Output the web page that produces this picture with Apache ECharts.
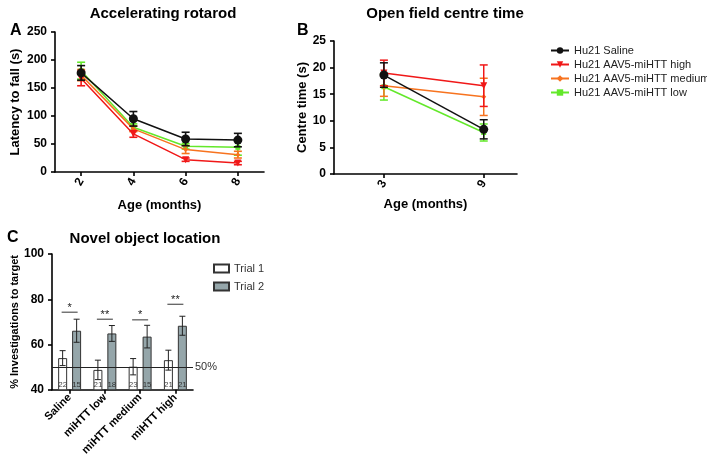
<!DOCTYPE html>
<html>
<head>
<meta charset="utf-8">
<script src="https://cdn.jsdelivr.net/npm/echarts@6/dist/echarts.min.js"></script>
<style>
  html, body { margin: 0; padding: 0; background: #fff; }
  #main { width: 707px; height: 458px; }
</style>
</head>
<body>
<div id="main"></div>
<script>
// 图A 数据: 旋转棒
const ageA = ["2", "4", "6", "8"];
const salineA = [177, 95, 59, 57];
const salineAErr = [13, 13, 12, 12];
const highA = [167, 68, 22, 16];
const highAErr = [13, 6, 3, 3];
const mediumA = [173, 77, 40, 31];
const mediumAErr = [10, 5, 7, 6];
const lowA = [181, 80, 46, 44];
const lowAErr = [15, 6, 5, 14];

// 图B 数据: 旷场中心时间
const ageB = [3, 9];
const salineB = [18.6, 8.4];
const salineBErr = [2.3, 1.8];
const highB = [19.0, 16.6];
const highBErr = [2.4, 3.9];
const mediumB = [16.6, 14.5];
const mediumBErr = [2.0, 3.5];
const lowB = [16.4, 7.8];
const lowBErr = [2.5, 1.6];

// 图C 数据: 新物体位置
const groupsC = ["Saline", "miHTT low", "miHTT medium", "miHTT high"];
const trial1 = [54.0, 48.8, 50.2, 53.1];
const trial1Err = [3.3, 4.3, 3.6, 4.4];
const trial2 = [66.1, 64.9, 63.5, 68.3];
const trial2Err = [5.1, 3.5, 5.0, 4.2];
const n1 = [22, 21, 23, 21];
const n2 = [15, 18, 15, 21];
const sigY = [74.3, 71.2, 70.9, 77.8];
const sigText = ["*", "**", "*", "**"];

const FONT = "Liberation Sans, Arial, sans-serif";
const names = [
  "Hu21 Saline",
  "Hu21 AAV5-miHTT high",
  "Hu21 AAV5-miHTT medium",
  "Hu21 AAV5-miHTT low",
];
const colors = ["#111111", "#f01818", "#f7731f", "#63e82a"];
const symbols = ["circle", "triangle", "diamond", "rect"];
const symbolSizes = [9, 7, 5, 5];
const symbolRotate = [0, 180, 0, 0];

var myChart = echarts.init(document.getElementById("main"));

// 误差线(偏移像素, 帽宽)
const errRender = (offset, cap, color, width) => {
  return function (params, api) {
    const x = api.value(0);
    const m = api.value(1);
    const e = api.value(2);
    const top = api.coord([x, m + e]);
    const bot = api.coord([x, m - e]);
    const cx = top[0] + offset;
    const st = { stroke: color, lineWidth: width };
    return {
      type: "group",
      children: [
        { type: "line", shape: { x1: cx, y1: top[1], x2: cx, y2: bot[1] }, style: st },
        { type: "line", shape: { x1: cx - cap, y1: top[1], x2: cx + cap, y2: top[1] }, style: st },
        { type: "line", shape: { x1: cx - cap, y1: bot[1], x2: cx + cap, y2: bot[1] }, style: st },
      ],
    };
  };
};

const boldLabel = { color: "#000", fontFamily: FONT, fontWeight: "bold", fontSize: 12 };
const axisLine = { show: true, lineStyle: { color: "#000", width: 1.6 } };
const axisTick = { show: true, length: 4, lineStyle: { color: "#000", width: 1.6 } };

const seriesA = [
  [salineA, salineAErr],
  [highA, highAErr],
  [mediumA, mediumAErr],
  [lowA, lowAErr],
];
const seriesB = [
  [salineB, salineBErr],
  [highB, highBErr],
  [mediumB, mediumBErr],
  [lowB, lowBErr],
];

var series = [];
// 折线(先画低的, 黑色在最上)
[3, 2, 1, 0].forEach((i) => {
  series.push({
    name: names[i],
    type: "line",
    xAxisIndex: 0,
    yAxisIndex: 0,
    data: seriesA[i][0],
    symbol: symbols[i],
    symbolSize: symbolSizes[i],
    symbolRotate: symbolRotate[i],
    lineStyle: { color: colors[i], width: 1.5 },
    itemStyle: { color: colors[i] },
    z: 10 - i,
  });
  series.push({
    name: names[i] + " errA",
    type: "custom",
    xAxisIndex: 0,
    yAxisIndex: 0,
    renderItem: errRender(0, 4, colors[i], 1.6),
    data: seriesA[i][0].map((v, k) => [k, v, seriesA[i][1][k]]),
    z: 10 - i,
  });
  series.push({
    name: names[i],
    type: "line",
    xAxisIndex: 1,
    yAxisIndex: 1,
    data: ageB.map((a, k) => [a, seriesB[i][0][k]]),
    symbol: symbols[i],
    symbolSize: symbolSizes[i],
    symbolRotate: symbolRotate[i],
    lineStyle: { color: colors[i], width: 1.5 },
    itemStyle: { color: colors[i] },
    z: 10 - i,
  });
  series.push({
    name: names[i] + " errB",
    type: "custom",
    xAxisIndex: 1,
    yAxisIndex: 1,
    renderItem: errRender(0, 4, colors[i], 1.5),
    data: ageB.map((a, k) => [a, seriesB[i][0][k], seriesB[i][1][k]]),
    z: 10 - i,
  });
});

// 柱状图C
const barW = 9;
const barOff = 7;
series.push({
  name: "Trial 1",
  type: "bar",
  xAxisIndex: 2,
  yAxisIndex: 2,
  data: trial1,
  barWidth: barW,
  barGap: "55%",
  itemStyle: { color: "#ffffff", borderColor: "#333", borderWidth: 1 },
  label: {
    show: true,
    position: "insideBottom",
    distance: 2,
    formatter: (p) => n1[p.dataIndex],
    fontSize: 8,
    color: "#444",
    fontFamily: FONT,
  },
  markLine: {
    silent: true,
    symbol: "none",
    lineStyle: { color: "#222", width: 1, type: "solid" },
    label: { formatter: "50%", position: "end", fontSize: 11, color: "#333", fontFamily: FONT, distance: 2 },
    data: [{ yAxis: 50 }],
  },
});
series.push({
  name: "Trial 2",
  type: "bar",
  xAxisIndex: 2,
  yAxisIndex: 2,
  data: trial2,
  barWidth: barW,
  itemStyle: { color: "#95a6aa", borderColor: "#333", borderWidth: 1 },
  label: {
    show: true,
    position: "insideBottom",
    distance: 2,
    formatter: (p) => n2[p.dataIndex],
    fontSize: 8,
    color: "#333",
    fontFamily: FONT,
  },
});
series.push({
  type: "custom",
  xAxisIndex: 2,
  yAxisIndex: 2,
  renderItem: errRender(-barOff, 3, "#222", 1),
  data: trial1.map((v, k) => [k, v, trial1Err[k]]),
  z: 5,
});
series.push({
  type: "custom",
  xAxisIndex: 2,
  yAxisIndex: 2,
  renderItem: errRender(barOff, 3, "#222", 1),
  data: trial2.map((v, k) => [k, v, trial2Err[k]]),
  z: 5,
});
// 显著性标记
series.push({
  type: "custom",
  xAxisIndex: 2,
  yAxisIndex: 2,
  renderItem: function (params, api) {
    const p = api.coord([api.value(0), api.value(1)]);
    return {
      type: "group",
      children: [
        {
          type: "line",
          shape: { x1: p[0] - barOff - 1, y1: p[1], x2: p[0] + barOff + 1, y2: p[1] },
          style: { stroke: "#333", lineWidth: 1 },
        },
        {
          type: "text",
          style: {
            text: sigText[params.dataIndex],
            x: p[0],
            y: p[1] + 1,
            align: "center",
            verticalAlign: "bottom",
            fontSize: 11,
            fontFamily: FONT,
            fill: "#222",
          },
        },
      ],
    };
  },
  data: sigY.map((v, k) => [k, v]),
});

var option = {
  backgroundColor: "#fff",
  animation: false,
  textStyle: { fontFamily: FONT },
  title: [
    { text: "Accelerating rotarod", left: 158, top: 1, textAlign: "center", textStyle: { fontSize: 15, fontWeight: "bold", color: "#000" } },
    { text: "Open field centre time", left: 440, top: 1, textAlign: "center", textStyle: { fontSize: 15, fontWeight: "bold", color: "#000" } },
    { text: "Novel object location", left: 140, top: 226, textAlign: "center", textStyle: { fontSize: 15, fontWeight: "bold", color: "#000" } },
    { text: "A", left: 5, top: 18, textStyle: { fontSize: 16, fontWeight: "bold", color: "#000" } },
    { text: "B", left: 292, top: 18, textStyle: { fontSize: 16, fontWeight: "bold", color: "#000" } },
    { text: "C", left: 2, top: 225, textStyle: { fontSize: 16, fontWeight: "bold", color: "#000" } },
  ],
  legend: [
    {
      data: names,
      orient: "vertical",
      left: 545,
      top: 40,
      itemWidth: 18,
      itemHeight: 8,
      itemGap: 3,
      textStyle: { fontSize: 11, color: "#222", fontFamily: FONT },
    },
    {
      data: [
        { name: "Trial 1", icon: "rect" },
        { name: "Trial 2", icon: "rect" },
      ],
      orient: "vertical",
      left: 208,
      top: 258,
      itemWidth: 15,
      itemHeight: 8,
      itemGap: 7,
      textStyle: { fontSize: 11, color: "#333", fontFamily: FONT },
    },
  ],
  grid: [
    { left: 55, top: 32, width: 209, height: 140 },
    { left: 334, top: 41, width: 183, height: 133 },
    { left: 52, top: 254, width: 141, height: 138 },
  ],
  xAxis: [
    {
      gridIndex: 0,
      type: "category",
      data: ageA,
      boundaryGap: true,
      axisLine: axisLine,
      axisTick: Object.assign({ alignWithLabel: true }, axisTick),
      axisLabel: Object.assign({ rotate: 60, margin: 7 }, boldLabel),
      name: "Age (months)",
      nameLocation: "middle",
      nameGap: 27,
      nameTextStyle: { fontSize: 13, fontWeight: "bold", color: "#000" },
    },
    {
      gridIndex: 1,
      type: "value",
      min: 0,
      max: 11,
      splitLine: { show: false },
      axisLine: axisLine,
      axisTick: Object.assign({ customValues: ageB }, axisTick),
      axisLabel: Object.assign({ rotate: 60, margin: 7, customValues: ageB }, boldLabel),
      name: "Age (months)",
      nameLocation: "middle",
      nameGap: 24,
      nameTextStyle: { fontSize: 13, fontWeight: "bold", color: "#000" },
    },
    {
      gridIndex: 2,
      type: "category",
      data: groupsC,
      axisLine: axisLine,
      axisTick: Object.assign({ alignWithLabel: true }, axisTick),
      axisLabel: Object.assign({ rotate: 45, margin: 6, interval: 0 }, boldLabel, { fontSize: 11 }),
    },
  ],
  yAxis: [
    {
      gridIndex: 0,
      type: "value",
      min: 0,
      max: 250,
      interval: 50,
      splitLine: { show: false },
      axisLine: axisLine,
      axisTick: axisTick,
      axisLabel: boldLabel,
      name: "Latency to fall (s)",
      nameLocation: "middle",
      nameGap: 33,
      nameTextStyle: { fontSize: 13, fontWeight: "bold", color: "#000" },
    },
    {
      gridIndex: 1,
      type: "value",
      min: 0,
      max: 25,
      interval: 5,
      splitLine: { show: false },
      axisLine: axisLine,
      axisTick: axisTick,
      axisLabel: boldLabel,
      name: "Centre time (s)",
      nameLocation: "middle",
      nameGap: 23,
      nameTextStyle: { fontSize: 13, fontWeight: "bold", color: "#000" },
    },
    {
      gridIndex: 2,
      type: "value",
      min: 40,
      max: 100,
      interval: 20,
      splitLine: { show: false },
      axisLine: axisLine,
      axisTick: axisTick,
      axisLabel: boldLabel,
      name: "% Investigations to target",
      nameLocation: "middle",
      nameGap: 28,
      nameTextStyle: { fontSize: 11, fontWeight: "bold", color: "#000" },
    },
  ],
  series: series,
};

myChart.setOption(option);
</script>
</body>
</html>
